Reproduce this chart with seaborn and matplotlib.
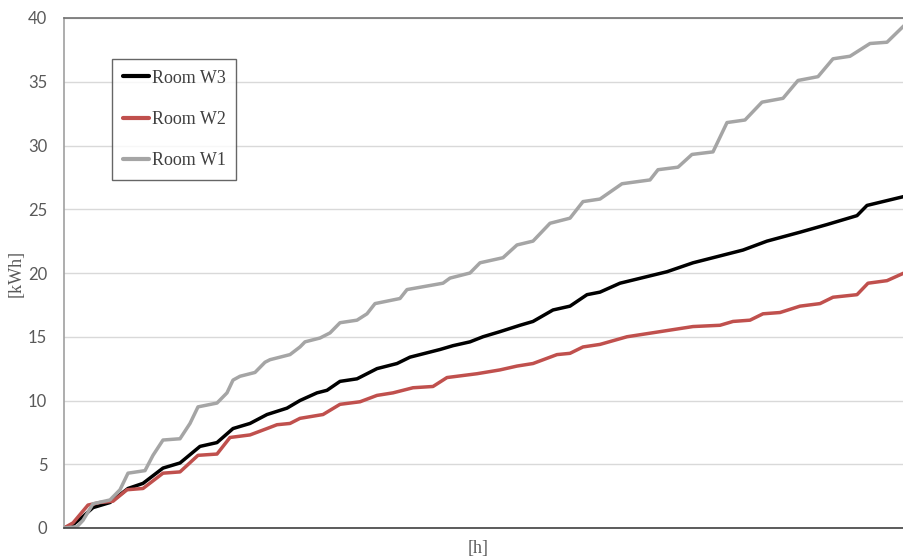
import pandas as pd
import matplotlib.pyplot as plt
import seaborn as sns

# cumulative energy per room
hours_w1 = [0, 13, 19, 29, 46, 56, 64, 81, 89, 99, 116, 126, 134, 153, 163, 169, 176, 191, 201, 206,
            226, 236, 241, 256, 266, 276, 293, 303, 311, 336, 343, 379, 386, 406, 416, 439, 453, 469,
            486, 506, 519, 536, 558, 586, 594, 614, 628, 649, 663, 681, 698, 719, 734, 754, 769, 786,
            806, 823, 840]
kwh_w1 = [0.0, 0.1, 0.6, 1.9, 2.2, 3.0, 4.3, 4.5, 5.7, 6.9, 7.0, 8.2, 9.5, 9.8, 10.6, 11.6, 11.9, 12.2,
          13.0, 13.2, 13.6, 14.2, 14.6, 14.9, 15.3, 16.1, 16.3, 16.8, 17.6, 18.0, 18.7, 19.2, 19.6, 20.0,
          20.8, 21.2, 22.2, 22.5, 23.9, 24.3, 25.6, 25.8, 27.0, 27.3, 28.1, 28.3, 29.3, 29.5, 31.8, 32.0,
          33.4, 33.7, 35.1, 35.4, 36.8, 37.0, 38.0, 38.1, 39.4]

hours_w2 = [0, 9, 24, 36, 49, 63, 79, 99, 116, 134, 153, 166, 186, 203, 213, 226, 236, 259, 276, 296,
            313, 329, 349, 369, 383, 413, 436, 453, 469, 493, 506, 519, 536, 563, 596, 629, 656, 669,
            686, 699, 716, 736, 756, 769, 793, 804, 823, 840]
kwh_w2 = [0.0, 0.4, 1.8, 2.0, 2.1, 3.0, 3.1, 4.3, 4.4, 5.7, 5.8, 7.1, 7.3, 7.8, 8.1, 8.2, 8.6, 8.9, 9.7,
          9.9, 10.4, 10.6, 11.0, 11.1, 11.8, 12.1, 12.4, 12.7, 12.9, 13.6, 13.7, 14.2, 14.4, 15.0, 15.4,
          15.8, 15.9, 16.2, 16.3, 16.8, 16.9, 17.4, 17.6, 18.1, 18.3, 19.2, 19.4, 20.0]

hours_w3 = [0, 8, 19, 29, 46, 64, 79, 99, 116, 136, 153, 169, 186, 203, 223, 236, 253, 263, 276, 293,
            313, 333, 346, 376, 389, 406, 419, 436, 456, 469, 489, 506, 523, 536, 556, 603, 629, 679,
            703, 736, 763, 793, 803, 840]
kwh_w3 = [0.0, 0.2, 0.9, 1.6, 2.0, 3.1, 3.5, 4.7, 5.1, 6.4, 6.7, 7.8, 8.2, 8.9, 9.4, 10.0, 10.6, 10.8,
          11.5, 11.7, 12.5, 12.9, 13.4, 14.0, 14.3, 14.6, 15.0, 15.4, 15.9, 16.2, 17.1, 17.4, 18.3, 18.5,
          19.2, 20.1, 20.8, 21.8, 22.5, 23.2, 23.8, 24.5, 25.3, 26.0]

rooms = ['Room W3', 'Room W2', 'Room W1']
colors = ['#000000', '#c0504d', '#a5a5a5']

df = pd.concat([
    pd.DataFrame({'h': hours_w3, 'kWh': kwh_w3, 'room': 'Room W3'}),
    pd.DataFrame({'h': hours_w2, 'kWh': kwh_w2, 'room': 'Room W2'}),
    pd.DataFrame({'h': hours_w1, 'kWh': kwh_w1, 'room': 'Room W1'}),
], ignore_index=True)

sns.set_style('white')
serif = ['Liberation Serif', 'DejaVu Serif']

fig = plt.figure(figsize=(9.04, 5.58), dpi=100)
ax = fig.add_axes([64 / 904, 30 / 558, 840 / 904, 510 / 558])

sns.lineplot(data=df, x='h', y='kWh', hue='room', hue_order=rooms,
             palette=dict(zip(rooms, colors)), linewidth=2.5, ax=ax, sort=False)

ax.set_xlim(0, 840)
ax.set_ylim(0, 40)
ax.set_yticks(range(0, 41, 5))
ax.set_xticks([])
ax.yaxis.grid(True, color='#d9d9d9', linewidth=1)
ax.set_axisbelow(True)
ax.tick_params(axis='y', length=0, pad=12, labelsize=12, labelcolor='#595959')
for lbl in ax.get_yticklabels():
    lbl.set_family(['Lato', 'DejaVu Sans'])

ax.spines['right'].set_visible(False)
ax.spines['left'].set_color('#a0a0a0')
ax.spines['top'].set_color('#707070')
ax.spines['bottom'].set_color('#404040')
for s in ax.spines.values():
    s.set_linewidth(1.2)

ax.set_xlabel('[h]', family=serif, fontsize=13, color='#595959')
ax.xaxis.set_label_coords(0.493, -0.024)
ax.set_ylabel('[kWh]', family=serif, fontsize=13, color='#595959')
ax.yaxis.set_label_coords(-0.047, 0.5)

leg = ax.legend(loc='upper left', bbox_to_anchor=(0.057, 0.92), borderaxespad=0,
                prop={'family': serif, 'size': 13}, frameon=True, fancybox=False,
                handlelength=1.45, handletextpad=0.15, labelspacing=1.35,
                borderpad=0.6)
leg.get_frame().set_edgecolor('#404040')
leg.get_frame().set_linewidth(1)
for t in leg.get_texts():
    t.set_color('#404040')
for l in leg.get_lines():
    l.set_linewidth(3)

fig.savefig('out.png', dpi=100)
